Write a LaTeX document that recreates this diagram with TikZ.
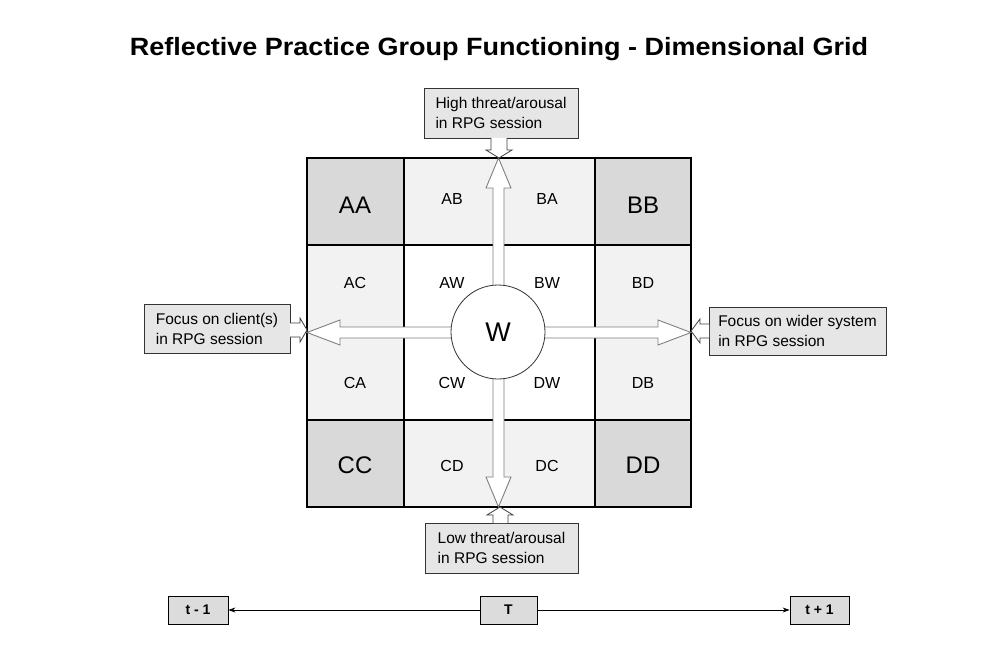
\documentclass[tikz,border=0pt]{standalone}
\usepackage{fontspec}
\setmainfont{Liberation Sans}
\usetikzlibrary{arrows.meta}
\definecolor{darkcell}{HTML}{D9D9D9}
\definecolor{lightcell}{HTML}{F2F2F2}
\definecolor{boxgray}{HTML}{E6E6E6}
\definecolor{timegray}{HTML}{DCDCDC}
\definecolor{arrowline}{HTML}{7F7F7F}
\tikzset{
  cellbig/.style={font=\fontsize{24}{28}\selectfont, inner sep=0pt},
  cellsmall/.style={font=\fontsize{16}{19}\selectfont, inner sep=0pt},
  lblbox/.style={draw=black!80, fill=boxgray, line width=0.8pt, align=left,
    font=\fontsize{15.5}{20}\selectfont, inner sep=0pt},
  timebox/.style={draw=black, fill=timegray, line width=0.8pt,
    font=\bfseries\fontsize{14}{16}\selectfont, inner sep=0pt, minimum height=28pt},
  blockarr/.style={draw=arrowline, fill=white, line width=0.9pt, line join=miter},
  smallarr/.style={draw=black!75, fill=white, line width=0.8pt},
  timearr/.style={-{Stealth[length=7pt,width=5pt]}, line width=0.7pt}
}
\begin{document}
\begin{tikzpicture}[x=1pt,y=-1pt]
\useasboundingbox (0,0) rectangle (1001,663);
\fill[white] (0,0) rectangle (1001,663);

% title
\node[font=\bfseries\fontsize{25}{28}\selectfont, xscale=1.08] (title) at (499,49) {Reflective Practice Group Functioning - Dimensional Grid};

% cell fills
\fill[darkcell] (307,158) rectangle (404,245);
\fill[darkcell] (595,158) rectangle (691,245);
\fill[darkcell] (307,420) rectangle (404,507);
\fill[darkcell] (595,420) rectangle (691,507);
\fill[lightcell] (404,158) rectangle (595,245);
\fill[lightcell] (404,420) rectangle (595,507);
\fill[lightcell] (307,245) rectangle (404,420);
\fill[lightcell] (595,245) rectangle (691,420);

% grid lines
\draw[line width=1.6pt] (404,158) -- (404,507);
\draw[line width=1.6pt] (595,158) -- (595,507);
\draw[line width=1.6pt] (307,245) -- (691,245);
\draw[line width=1.6pt] (307,420) -- (691,420);
\draw[line width=2.4pt] (307,158) rectangle (691,507);

% cell labels
\node[cellbig] (AA) at (355,205) {AA};
\node[cellsmall] (AB) at (452,199) {AB};
\node[cellsmall] (BA) at (547,199) {BA};
\node[cellbig] (BB) at (643,205) {BB};
\node[cellsmall] (AC) at (355,283) {AC};
\node[cellsmall] (AW) at (452,283) {AW};
\node[cellsmall] (BW) at (547,283) {BW};
\node[cellsmall] (BD) at (643,283) {BD};
\node[cellsmall] (CA) at (355,383) {CA};
\node[cellsmall] (CW) at (452,383) {CW};
\node[cellsmall] (DW) at (547,383) {DW};
\node[cellsmall] (DB) at (643,383) {DB};
\node[cellbig] (CC) at (355,465) {CC};
\node[cellsmall] (CD) at (452,466) {CD};
\node[cellsmall] (DC) at (547,466) {DC};
\node[cellbig] (DD) at (643,465) {DD};

% big block arrows
\draw[blockarr] (493,332) -- (493,188) -- (486,188) -- (498.5,158) -- (511,188) -- (504,188) -- (504,332) -- cycle;
\draw[blockarr] (493,332) -- (493,477) -- (486,477) -- (498.5,507) -- (511,477) -- (504,477) -- (504,332) -- cycle;
\draw[blockarr] (498,327) -- (340,327) -- (340,320) -- (307,332.5) -- (340,345) -- (340,338) -- (498,338) -- cycle;
\draw[blockarr] (498,327) -- (658,327) -- (658,320) -- (691,332.5) -- (658,345) -- (658,338) -- (498,338) -- cycle;

% centre circle
\node[circle, draw=black!80, line width=0.8pt, fill=white, minimum size=94pt, inner sep=0pt,
  font=\fontsize{27}{30}\selectfont] (W) at (498,332) {W};

% outer label boxes
\node[lblbox, minimum width=154pt, minimum height=50pt] (high) at (501,113) {High threat/arousal\\in RPG session};
\node[lblbox, minimum width=153pt, minimum height=50pt] (low) at (501.5,548) {Low threat/arousal\\in RPG session};
\node[lblbox, minimum width=146pt, minimum height=49pt] (client) at (217,328.5) {Focus on client(s)\\in RPG session};
\node[lblbox, minimum width=177pt, minimum height=48pt] (wider) at (797.5,331) {Focus on wider system\\in RPG session};

% small block arrows
\draw[smallarr] (491,138) -- (491,150) -- (486,150) -- (499,158) -- (512,150) -- (507,150) -- (507,138);
\draw[smallarr] (493,523) -- (493,515) -- (487,515) -- (500,507) -- (513,515) -- (508,515) -- (508,523);
\draw[smallarr] (290,323) -- (300,323) -- (300,318) -- (307,330) -- (300,342) -- (300,337) -- (290,337);
\draw[smallarr] (709,324) -- (700,324) -- (700,319) -- (691,331) -- (700,343) -- (700,338) -- (709,338);

% timeline
\node[timebox, minimum width=60pt] (tm) at (198,610) {t - 1};
\node[timebox, minimum width=57pt] (T) at (508.5,610) {T};
\node[timebox, minimum width=59pt] (tp) at (819.5,610) {t + 1};
\draw[timearr] (T) -- (tm);
\draw[timearr] (T) -- (tp);
\end{tikzpicture}
\end{document}
